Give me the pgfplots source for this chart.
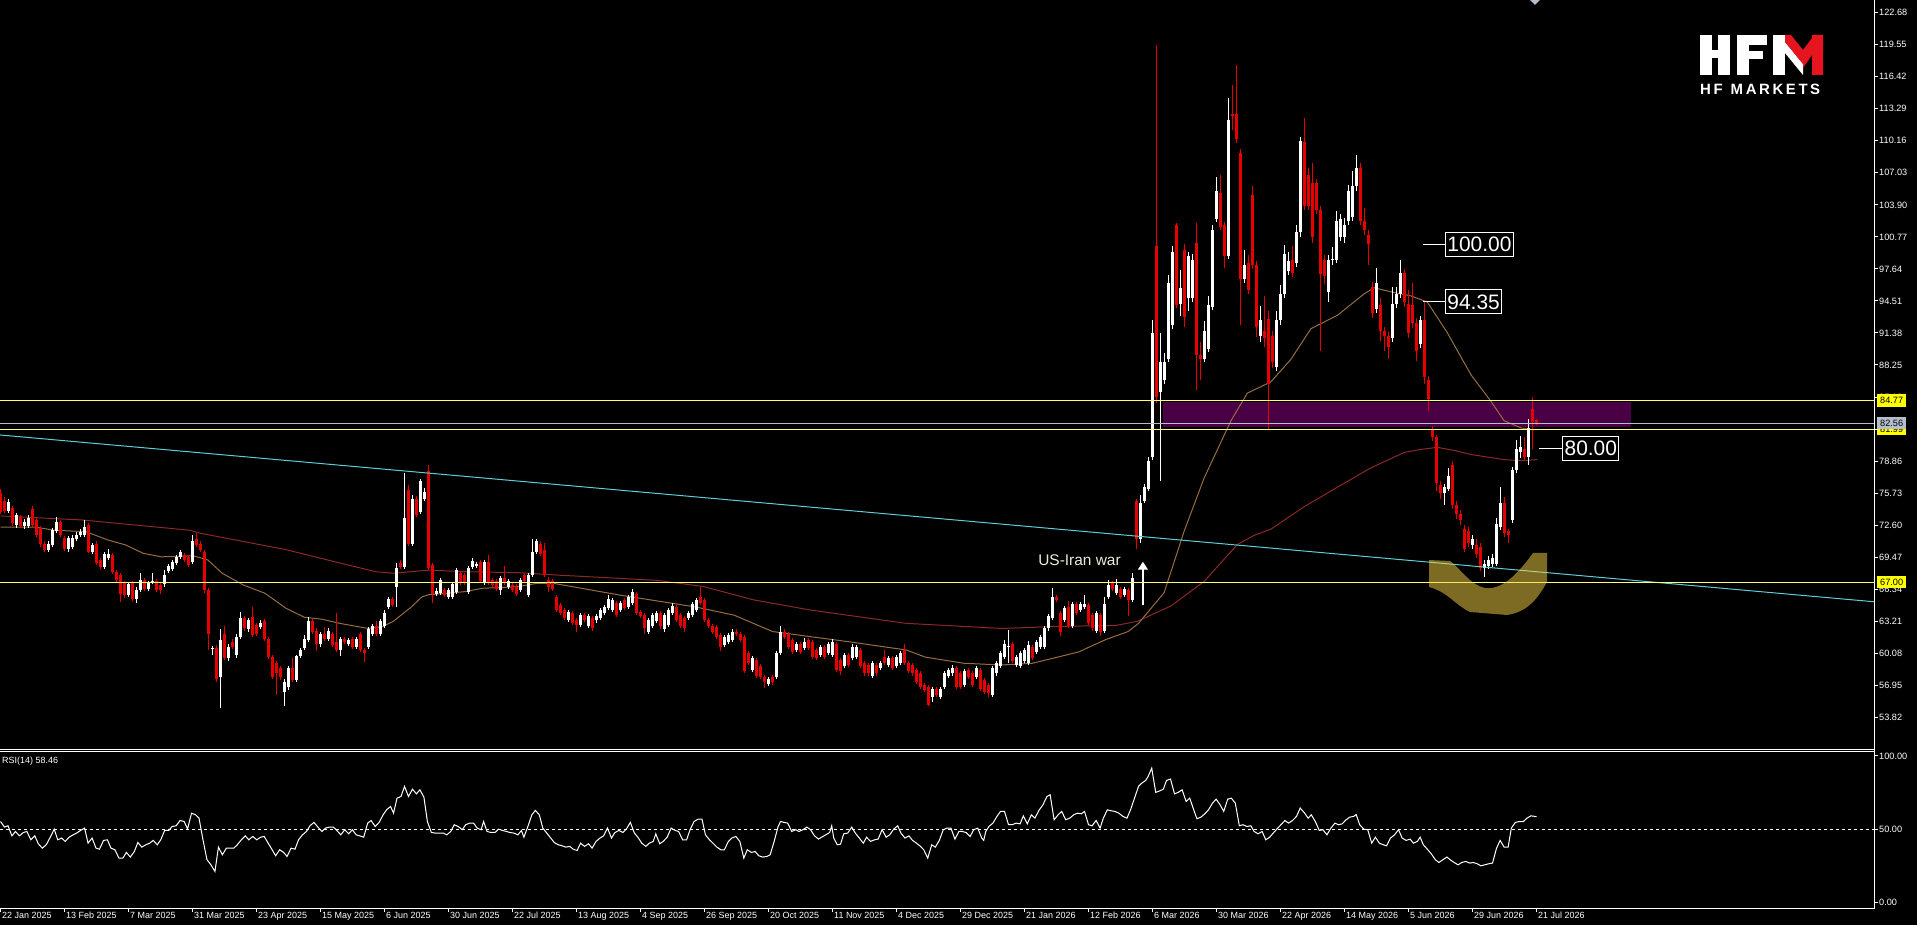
\documentclass[border=0pt]{standalone}
\usepackage{pgfplots}
\pgfplotsset{compat=1.18}
\usepackage{pgfplotstable}
\usepackage{fontspec}
\setmainfont{Liberation Sans}
\usetikzlibrary{arrows.meta}
\definecolor{bull}{RGB}{255,255,255}
\definecolor{bear}{RGB}{230,0,0}
\definecolor{maFast}{RGB}{150,110,65}
\definecolor{maSlow}{RGB}{140,40,40}
\definecolor{trend}{RGB}{95,205,215}
\definecolor{lvl}{RGB}{255,255,120}
\definecolor{lvlbox}{RGB}{255,255,0}
\definecolor{zone}{RGB}{74,0,68}
\definecolor{lastp}{RGB}{180,190,205}
\definecolor{swoosh}{RGB}{250,212,70}
\definecolor{hfred}{RGB}{230,20,30}
\definecolor{cream}{RGB}{235,235,220}

\pgfplotstableread{
i o h l c
0 75.71 76.10 73.70 73.92
1 75.00 75.30 73.80 74.00
2 74.00 75.20 73.80 74.90
3 74.30 74.50 72.50 72.80
4 72.60 73.80 72.30 73.60
5 73.40 73.60 72.30 72.50
6 72.50 73.20 72.20 72.90
7 72.50 73.60 72.30 73.30
8 74.20 74.50 72.40 72.60
9 73.10 73.30 71.40 71.60
10 72.30 72.50 70.50 70.80
11 70.80 71.00 70.00 70.20
12 70.20 71.00 70.00 70.80
13 70.70 72.30 70.50 72.10
14 72.00 73.40 71.80 72.90
15 72.90 73.10 71.40 71.60
16 71.30 71.50 70.10 70.30
17 70.30 71.50 70.00 71.30
18 70.50 71.60 70.30 71.30
19 71.20 71.90 71.00 71.60
20 71.60 72.20 71.40 71.90
21 71.60 73.10 71.40 72.40
22 72.60 72.80 69.90 70.00
23 70.00 70.90 69.80 70.70
24 70.80 71.00 68.70 68.90
25 69.20 69.40 68.30 68.50
26 68.50 70.00 68.30 69.80
27 69.40 70.30 69.20 69.80
28 69.70 69.90 67.80 68.00
29 68.00 68.20 67.00 67.20
30 67.70 67.90 65.10 65.90
31 66.90 67.10 65.50 65.80
32 65.80 67.00 65.60 66.80
33 66.90 67.10 65.20 65.40
34 65.40 66.60 65.00 66.30
35 66.30 67.90 66.10 67.20
36 67.20 67.40 66.20 66.40
37 66.40 67.10 66.20 66.90
38 67.00 67.90 66.80 67.10
39 67.10 67.30 66.10 66.30
40 66.70 66.90 65.90 66.30
41 66.80 68.20 66.60 67.70
42 68.10 68.80 67.90 68.60
43 68.30 69.20 68.10 69.00
44 68.90 69.70 68.70 69.50
45 69.50 70.20 69.30 70.00
46 69.70 69.90 69.00 69.20
47 69.50 69.70 68.50 68.70
48 69.00 71.60 68.80 71.00
49 71.20 71.80 70.50 70.70
50 70.80 71.00 70.00 70.20
51 70.00 70.20 66.00 66.30
52 66.30 66.50 60.40 62.00
53 60.50 60.80 59.90 60.60
54 60.60 60.90 57.30 57.60
55 57.80 62.40 54.70 61.40
56 62.00 62.70 59.40 59.60
57 59.60 61.00 59.30 60.70
58 61.20 61.50 60.50 60.70
59 59.90 62.00 59.60 61.70
60 61.70 64.10 61.50 63.50
61 63.50 63.70 62.30 62.50
62 62.40 63.50 62.20 63.30
63 63.60 64.60 61.70 61.90
64 62.80 63.00 61.80 62.00
65 62.60 63.30 62.40 63.00
66 63.20 63.40 61.30 61.50
67 61.50 61.70 59.50 59.70
68 59.70 59.90 57.60 57.80
69 59.10 59.30 56.00 58.10
70 58.60 58.80 57.50 57.80
71 56.30 57.60 54.90 57.30
72 56.80 58.80 56.50 58.60
73 58.60 59.60 57.30 57.50
74 57.50 59.90 57.30 59.80
75 59.80 60.60 59.60 60.40
76 60.60 61.90 60.40 61.50
77 61.40 63.60 61.20 63.20
78 63.20 63.40 62.00 62.20
79 62.30 62.50 60.30 61.00
80 61.00 62.20 60.70 62.00
81 62.00 62.60 61.30 61.50
82 61.50 62.50 61.30 62.30
83 62.00 62.20 60.70 60.90
84 61.20 64.00 60.20 60.40
85 60.40 61.70 59.80 61.50
86 61.50 61.70 61.00 61.20
87 61.00 61.60 60.80 61.40
88 61.50 61.70 60.50 60.70
89 60.70 61.70 60.50 61.50
90 62.00 62.20 60.20 60.40
91 60.40 60.60 59.20 60.10
92 60.70 62.60 60.50 62.40
93 62.00 62.90 61.80 62.70
94 62.70 63.20 61.80 62.00
95 62.00 63.40 61.80 63.20
96 62.70 64.30 62.50 64.00
97 64.60 65.60 64.40 65.40
98 65.40 65.60 64.60 64.80
99 66.60 68.90 64.60 68.40
100 68.90 69.20 68.30 68.50
101 68.50 77.70 68.30 73.30
102 76.00 76.50 70.60 70.80
103 70.80 75.50 70.60 75.20
104 75.20 75.40 73.40 73.60
105 73.90 77.10 73.70 76.90
106 75.20 76.20 75.00 75.80
107 77.90 78.50 68.20 68.40
108 68.70 68.90 65.00 65.90
109 65.90 66.50 65.70 66.20
110 66.00 67.40 65.80 67.20
111 66.30 66.50 65.60 65.80
112 65.60 66.50 65.40 66.30
113 65.60 67.00 65.40 66.80
114 66.10 68.40 65.90 68.20
115 67.90 68.10 66.70 66.90
116 67.70 67.90 66.70 66.90
117 66.10 68.60 65.90 68.40
118 68.50 69.40 68.30 69.10
119 68.60 69.00 68.40 68.80
120 69.00 69.20 66.90 67.10
121 66.90 69.20 66.70 69.00
122 69.00 69.70 66.70 66.90
123 67.20 67.40 66.50 66.70
124 67.10 67.30 66.20 66.40
125 66.30 67.60 65.80 67.40
126 67.40 68.60 66.70 66.90
127 66.60 67.30 66.40 67.10
128 66.70 66.90 66.10 66.30
129 66.60 66.80 65.70 65.90
130 66.30 67.40 66.10 67.20
131 67.70 67.90 66.90 67.10
132 65.80 67.90 65.60 67.70
133 67.70 71.20 67.50 70.00
134 70.00 71.20 69.80 71.00
135 70.80 71.00 69.60 69.80
136 70.17 70.82 67.50 67.73
137 67.24 67.50 66.10 66.59
138 67.10 67.30 66.20 66.40
139 65.60 65.80 64.10 64.30
140 64.80 65.00 63.80 64.00
141 64.30 64.50 63.30 63.50
142 63.30 64.30 63.10 64.10
143 64.00 64.20 62.80 63.00
144 63.30 63.50 62.20 62.80
145 62.80 64.00 62.60 63.80
146 63.80 64.00 63.10 63.30
147 62.70 63.90 62.50 63.70
148 63.50 63.70 62.30 62.50
149 63.30 63.90 63.00 63.70
150 63.50 64.50 63.30 64.30
151 64.00 64.80 63.80 64.60
152 64.50 65.80 64.30 65.40
153 64.30 65.50 64.10 65.30
154 65.00 65.20 63.60 63.80
155 64.30 65.20 64.10 65.00
156 65.30 65.50 64.30 64.50
157 64.60 65.80 64.40 65.60
158 65.00 66.40 64.80 66.10
159 65.90 66.10 63.80 64.00
160 64.10 64.30 63.50 63.70
161 63.80 64.00 62.00 62.50
162 62.20 63.50 62.00 63.30
163 62.70 64.00 62.50 63.80
164 63.20 64.20 63.00 64.00
165 64.00 64.20 62.40 62.70
166 62.40 64.00 62.20 63.80
167 62.80 64.50 62.60 64.30
168 64.00 65.00 63.80 64.70
169 64.60 64.80 63.10 63.30
170 63.80 64.00 62.50 62.70
171 63.50 63.70 62.20 62.50
172 63.50 64.20 63.30 64.00
173 63.80 65.10 63.60 64.90
174 64.30 65.50 64.10 65.30
175 65.60 66.60 64.80 65.00
176 65.30 65.50 63.10 63.30
177 63.30 63.50 62.50 62.70
178 62.70 62.90 62.00 62.20
179 62.60 62.80 61.50 61.70
180 61.90 62.10 60.30 60.70
181 60.90 61.90 60.70 61.70
182 61.20 62.10 61.00 61.90
183 61.40 62.40 61.20 62.20
184 62.20 62.40 61.80 62.00
185 62.00 62.20 61.20 61.40
186 61.70 61.90 58.10 58.30
187 60.10 60.30 58.90 59.10
188 58.40 59.80 58.20 59.60
189 59.40 59.60 57.70 57.90
190 58.80 59.00 57.60 57.80
191 57.80 58.00 56.65 57.30
192 57.10 57.80 56.90 57.60
193 57.80 58.00 57.00 57.30
194 57.80 60.30 57.60 60.10
195 60.10 62.70 59.90 62.20
196 62.20 62.40 61.50 61.70
197 62.00 62.20 60.50 60.70
198 61.40 61.60 60.00 60.20
199 60.40 61.20 60.20 61.00
200 61.00 61.20 60.00 60.20
201 60.60 61.60 60.40 61.20
202 61.40 61.60 60.40 60.60
203 61.20 61.40 59.50 59.70
204 60.40 60.60 59.40 59.60
205 59.90 60.90 59.70 60.70
206 60.70 60.90 59.50 59.70
207 60.10 61.20 59.90 61.00
208 59.90 61.50 59.70 61.20
209 61.00 61.20 58.20 58.40
210 59.40 59.60 58.00 58.30
211 58.80 60.10 58.60 59.90
212 59.90 60.10 58.70 58.90
213 59.60 61.00 59.40 60.70
214 59.70 60.90 59.50 60.70
215 60.40 60.60 58.60 58.80
216 59.10 59.30 57.90 58.10
217 58.90 59.10 57.90 58.10
218 57.90 59.30 57.70 59.10
219 58.90 59.10 57.90 58.10
220 58.60 59.30 58.40 59.10
221 59.70 60.40 58.90 59.10
222 58.90 59.80 58.70 59.60
223 59.60 59.80 58.40 58.60
224 58.80 59.90 58.60 59.70
225 59.10 60.30 58.90 60.10
226 60.40 61.00 58.90 59.10
227 59.10 59.30 58.10 58.30
228 58.90 59.10 57.90 58.10
229 58.40 58.60 57.10 57.30
230 58.10 58.30 56.60 56.80
231 57.00 57.20 56.30 56.50
232 56.80 57.00 54.90 55.00
233 55.80 56.80 55.35 56.60
234 56.60 56.80 55.80 56.00
235 55.80 56.80 55.60 56.60
236 56.80 58.30 56.60 58.10
237 57.90 58.60 57.70 58.40
238 58.10 58.90 57.90 58.60
239 58.60 58.80 56.60 56.80
240 58.10 58.30 56.60 56.80
241 57.00 58.50 56.80 58.30
242 58.40 58.60 57.60 57.80
243 58.10 58.30 56.80 57.00
244 57.80 58.80 57.60 58.60
245 58.40 58.60 56.40 56.60
246 57.50 57.70 56.10 56.30
247 57.00 57.20 55.80 56.20
248 56.00 58.80 55.80 58.60
249 58.10 59.30 57.90 59.10
250 58.80 60.30 58.60 60.10
251 59.70 61.40 59.50 61.00
252 60.70 62.35 59.10 60.75
253 61.00 61.20 59.10 59.30
254 58.90 59.90 58.70 59.70
255 58.80 60.30 58.60 60.10
256 59.30 60.60 59.10 60.40
257 59.10 61.30 58.90 60.90
258 60.70 60.90 59.40 59.60
259 60.20 61.40 60.00 61.20
260 60.70 61.90 60.50 61.70
261 60.70 62.70 60.50 62.50
262 62.50 63.90 62.30 63.70
263 63.50 66.50 63.30 65.60
264 65.60 65.80 65.10 65.30
265 64.00 64.20 61.80 62.20
266 63.30 64.70 63.10 64.50
267 64.60 65.20 62.50 62.70
268 62.70 65.10 62.50 64.90
269 64.90 65.10 63.80 64.00
270 64.30 65.10 64.10 64.90
271 64.60 65.80 64.40 64.90
272 64.80 65.00 62.80 63.00
273 63.80 64.00 62.30 62.50
274 62.30 64.20 62.10 64.00
275 63.80 64.00 61.80 62.20
276 62.30 65.60 62.10 64.90
277 65.60 67.20 65.40 66.75
278 66.90 67.10 66.20 66.40
279 66.00 67.30 65.80 66.75
280 66.40 66.60 65.40 65.60
281 65.80 66.60 65.60 66.40
282 66.30 66.50 63.70 65.30
283 65.30 67.90 65.10 67.40
284 75.00 75.20 70.30 71.25
285 71.25 75.50 70.90 74.80
286 75.00 76.60 74.80 76.30
287 76.10 79.30 75.90 78.90
288 79.30 92.60 79.00 91.40
289 99.90 119.50 84.50 85.10
290 85.60 91.40 76.90 88.50
291 86.80 89.40 86.40 88.50
292 88.80 97.00 88.50 96.30
293 92.20 99.90 91.80 99.30
294 101.90 102.10 93.80 94.10
295 94.25 97.50 93.00 95.75
296 99.50 100.10 92.00 92.90
297 94.80 99.30 93.50 98.90
298 94.80 99.10 94.40 98.55
299 100.20 102.10 85.80 89.20
300 89.20 90.50 86.80 88.80
301 88.80 92.50 88.50 91.60
302 89.80 95.00 89.50 94.10
303 93.90 101.90 93.60 101.40
304 102.50 106.60 102.20 105.30
305 105.10 106.80 101.40 101.70
306 101.90 102.20 97.70 98.90
307 98.90 114.30 98.60 112.20
308 112.80 115.60 111.20 112.60
309 112.80 117.60 109.90 110.30
310 109.00 109.40 92.20 96.70
311 96.70 99.50 96.30 98.00
312 98.20 99.00 95.20 95.60
313 104.90 105.70 97.60 98.00
314 98.00 98.40 91.00 92.00
315 91.10 94.00 90.50 92.60
316 91.60 95.00 90.00 90.90
317 92.75 93.50 81.90 86.40
318 91.10 91.60 88.00 88.50
319 88.10 93.50 87.70 92.60
320 92.60 96.10 92.20 95.20
321 95.20 100.00 94.80 99.10
322 97.40 99.30 97.00 98.40
323 98.55 99.90 96.80 97.20
324 98.20 101.90 97.80 101.20
325 101.20 110.50 100.80 110.10
326 110.00 112.40 103.40 103.80
327 106.80 107.50 103.40 103.80
328 106.00 108.00 100.20 100.80
329 106.00 106.40 103.00 103.40
330 103.40 103.80 89.60 97.10
331 98.55 99.00 96.20 96.90
332 95.40 99.00 94.40 98.55
333 98.55 99.80 98.00 98.62
334 98.55 103.30 98.20 102.30
335 100.80 103.00 100.40 102.50
336 100.80 102.60 100.20 101.90
337 102.30 105.80 101.90 105.30
338 102.70 107.20 102.30 105.70
339 105.70 108.80 105.30 107.50
340 107.50 108.00 101.90 102.30
341 102.30 103.60 101.00 101.40
342 101.00 101.40 98.00 100.05
343 95.90 96.40 92.80 93.30
344 93.70 97.70 93.30 96.30
345 94.10 94.80 90.60 91.60
346 91.60 92.00 89.60 91.10
347 91.10 91.50 88.80 90.00
348 90.90 95.90 90.50 94.25
349 94.25 95.90 93.80 95.20
350 95.20 98.55 94.80 97.20
351 97.20 97.60 93.90 94.40
352 94.25 95.60 90.90 91.40
353 94.10 96.30 91.90 92.40
354 92.40 92.80 88.60 89.60
355 90.30 93.00 89.90 92.60
356 92.60 94.40 86.40 87.10
357 86.80 87.20 83.80 84.90
358 81.90 82.30 80.80 81.20
359 81.20 81.40 75.90 76.70
360 76.50 76.90 75.20 75.70
361 75.70 76.60 74.60 76.30
362 76.10 78.20 75.90 77.40
363 78.50 78.90 74.20 74.60
364 74.60 75.00 73.20 73.70
365 73.70 74.10 72.60 73.10
366 72.20 72.60 70.00 70.30
367 72.00 72.40 70.50 70.90
368 70.70 71.60 70.30 71.25
369 70.70 71.20 69.40 69.75
370 70.50 70.90 68.10 68.44
371 68.44 69.20 67.50 68.82
372 68.60 69.60 68.30 69.20
373 68.80 69.80 68.50 69.40
374 68.80 73.30 68.60 72.70
375 72.40 76.30 72.10 74.80
376 74.80 75.30 71.40 71.80
377 72.00 72.20 70.90 71.60
378 73.10 78.30 72.80 78.00
379 78.00 80.90 77.70 80.00
380 79.70 81.30 79.20 80.20
381 80.00 81.20 78.90 79.30
382 79.30 83.00 78.50 82.10
383 83.96 85.10 80.00 82.66
384 82.90 83.00 82.40 82.56
}\candles

\begin{document}
\begin{tikzpicture}
\fill[black] (0,0) rectangle (1917bp,925bp);

% ---------------- main price panel ----------------
\begin{axis}[
  at={(0bp,176bp)}, anchor=south west,
  scale only axis, width=1874bp, height=749bp,
  xmin=-0.125, xmax=468.375, ymin=50.72, ymax=123.92,
  axis line style={draw=none},
  xtick=\empty,
  ytick={53.82,56.95,60.08,63.21,66.34,69.47,72.60,75.73,78.86,81.99,85.12,88.25,91.38,94.51,97.64,100.77,103.90,107.03,110.16,113.29,116.42,119.55,122.68},
  yticklabels={53.82,56.95,60.08,63.21,66.34,69.47,72.60,75.73,78.86,81.99,85.12,88.25,91.38,94.51,97.64,100.77,103.90,107.03,110.16,113.29,116.42,119.55,122.68},
  ytick pos=right, yticklabel pos=right,
  tick align=outside, major tick length=4bp,
  tick style={white, line width=1bp},
  yticklabel style={font=\fontsize{9.2}{11}\selectfont, text=white, anchor=west, inner sep=0pt, xshift=1bp},
]
% resistance zone
\fill[zone] (axis cs:290.6,82.22) rectangle (axis cs:407.55,84.66);

% moving averages
\addplot[maSlow, line width=1bp, mark=none] coordinates {
(0,73.5) (20.5,73.1) (47.3,72.1) (50,71.8) (71.4,70.2) (84.8,68.9) (93.75,68.05) (98.2,67.9) (107.1,68.2) (116.1,68.05) (129.5,67.95) (140,67.7) (164.2,67.2) (175.7,66.6) (188.2,65.3) (202.5,64.3) (226.4,63.0) (250.3,62.5) (264.6,62.7) (278.9,62.8) (284.2,63.2) (292.6,64.7) (300.9,67.1) (309.2,70.7) (313.4,71.6) (317.6,72.2) (325.9,74.4) (334.2,76.3) (342.6,78.2) (350.9,79.7) (355.1,80.0) (359.2,80.2) (363.4,79.9) (367.6,79.5) (375.9,79.0) (380.1,78.9) (384.2,79.0)
};
\addplot[maFast, line width=1bp, mark=none] coordinates {
(0,72.4) (8.9,72.4) (13.4,72.1) (21.4,71.96) (26.8,71.15) (31.3,70.66) (35.7,69.84) (40.2,69.5) (48.2,69.6) (51.8,69.2) (55.4,67.9) (60.7,66.75) (66.1,65.94) (71.4,64.47) (75.9,63.6) (80.4,63.4) (84.8,63.0) (89.3,62.68) (92,62.5) (95.5,62.68) (98.2,63.2) (102.7,64.6) (105.4,65.6) (107.1,65.8) (111.6,65.94) (116.1,66.1) (120.5,66.43) (125,66.5) (129.5,66.59) (133.9,66.9) (138.4,66.9) (154.7,65.77) (173.8,64.6) (183.4,63.8) (193,62.2) (202.5,61.7) (212.1,61.2) (226.4,60.4) (231.2,59.7) (240.8,59.1) (250.3,58.93) (258,59.1) (269.5,60.2) (276.2,61.4) (281.9,62.2) (284.5,63.0) (290.9,66.0) (295.9,72.0) (300.9,77.2) (307.6,82.8) (311.7,85.5) (317.6,86.6) (322.6,88.8) (327.6,91.8) (334.2,93.1) (340.9,95.2) (343.4,95.8) (347.6,95.4) (352.6,95.0) (356.7,94.4) (361.7,91.4) (367.6,87.3) (372.6,84.7) (375.9,82.8) (380.1,82.1) (383.4,81.9)
};

% candles: wicks then bodies
\addplot[draw=none, mark=none, forget plot,
  restrict expr to domain={\thisrow{c}-\thisrow{o}}{0:1000},
  error bars/.cd, y dir=plus, y explicit, error mark=none,
  error bar style={draw=bull, line width=1bp, solid}]
  table[x=i, y=l, y error plus expr=\thisrow{h}-\thisrow{l}] {\candles};
\addplot[draw=none, mark=none, forget plot,
  restrict expr to domain={\thisrow{c}-\thisrow{o}}{-1000:-0.00001},
  error bars/.cd, y dir=plus, y explicit, error mark=none,
  error bar style={draw=bear, line width=1bp, solid}]
  table[x=i, y=l, y error plus expr=\thisrow{h}-\thisrow{l}] {\candles};
\addplot[draw=none, mark=none, forget plot,
  restrict expr to domain={\thisrow{c}-\thisrow{o}}{0:1000},
  error bars/.cd, y dir=plus, y explicit, error mark=none,
  error bar style={draw=bull, line width=3bp, solid}]
  table[x=i, y=o, y error plus expr={max(\thisrow{c}-\thisrow{o},0.1)}] {\candles};
\addplot[draw=none, mark=none, forget plot,
  restrict expr to domain={\thisrow{c}-\thisrow{o}}{-1000:-0.00001},
  error bars/.cd, y dir=plus, y explicit, error mark=none,
  error bar style={draw=bear, line width=3bp, solid}]
  table[x=i, y=c, y error plus expr={max(\thisrow{o}-\thisrow{c},0.1)}] {\candles};

% trend line and horizontal levels
\draw[trend, line width=1bp] (axis cs:-0.125,81.41) -- (axis cs:468.375,65.11);
\draw[lvl, line width=1bp] (axis cs:-0.125,84.77) -- (axis cs:468.375,84.77);
\draw[lvl, line width=1bp] (axis cs:-0.125,81.99) -- (axis cs:468.375,81.99);
\draw[lastp, line width=1bp] (axis cs:-0.125,82.56) -- (axis cs:468.375,82.56);
\draw[lvl, line width=1bp] (axis cs:-0.125,67.00) -- (axis cs:468.375,67.00);

% annotations
\draw[white, line width=1.3bp, -{Triangle[width=10bp,length=8bp]}] (axis cs:285.6,64.79) -- (axis cs:285.6,69.02);
\node[text=cream, font=\fontsize{15.5}{15.5}\selectfont, inner sep=0pt] at (axis cs:269.75,69.19) {US-Iran war};

\draw[white, line width=1bp] (axis cs:355.6,100.05) -- (axis cs:361.1,100.05);
\node[draw=white, line width=1bp, fill=black, text=white, anchor=west, inner xsep=2bp, inner ysep=0pt, minimum height=24bp, text height=15bp, text depth=0pt, font=\fontsize{21}{21}\selectfont] at (axis cs:361.1,100.05) {100.00};
\draw[white, line width=1bp] (axis cs:355.6,94.41) -- (axis cs:361.1,94.41);
\node[draw=white, line width=1bp, fill=black, text=white, anchor=west, inner xsep=2bp, inner ysep=0pt, minimum height=24bp, text height=15bp, text depth=0pt, font=\fontsize{21}{21}\selectfont] at (axis cs:361.1,94.41) {94.35};
\draw[white, line width=1bp] (axis cs:384.6,80.09) -- (axis cs:390.4,80.09);
\node[draw=white, line width=1bp, fill=black, text=white, anchor=west, inner xsep=2bp, inner ysep=0pt, minimum height=24bp, text height=15bp, text depth=0pt, font=\fontsize{21}{21}\selectfont] at (axis cs:390.4,80.09) {80.00};
\end{axis}

% ---------------- RSI panel ----------------
\begin{axis}[
  at={(0bp,17bp)}, anchor=south west,
  scale only axis, width=1874bp, height=157bp,
  xmin=-0.125, xmax=468.375, ymin=-3.9, ymax=103.4,
  axis line style={draw=none},
  xtick={0,16,...,384},
  xticklabels={22 Jan 2025,13 Feb 2025,7 Mar 2025,31 Mar 2025,23 Apr 2025,15 May 2025,6 Jun 2025,30 Jun 2025,22 Jul 2025,13 Aug 2025,4 Sep 2025,26 Sep 2025,20 Oct 2025,11 Nov 2025,4 Dec 2025,29 Dec 2025,21 Jan 2026,12 Feb 2026,6 Mar 2026,30 Mar 2026,22 Apr 2026,14 May 2026,5 Jun 2026,29 Jun 2026,21 Jul 2026},
  xtick pos=bottom,
  ytick={0,50,100}, yticklabels={0.00,50.00,100.00},
  ytick pos=right, yticklabel pos=right,
  tick align=outside, major tick length=4bp,
  tick style={white, line width=1bp},
  xticklabel style={font=\fontsize{9}{10}\selectfont, text=white, anchor=north west, inner sep=0pt, xshift=1.5bp},
  yticklabel style={font=\fontsize{9.2}{11}\selectfont, text=white, anchor=west, inner sep=0pt, xshift=1bp},
]
\draw[white, line width=1bp, dash pattern=on 3bp off 3bp] (axis cs:-0.125,50) -- (axis cs:468.375,50);
\addplot[white, line width=1bp, mark=none] coordinates {
(0,55.2)(1.0,51.4)(1.87,52.3)(2.86,45.4)(3.73,48.4)(4.73,45.4)(5.72,47.7)(6.59,48.4)(7.59,42.7)(8.58,45.4)(9.45,40.0)(10.45,37.0)(11.44,39.3)(12.44,44.5)(13.43,50.0)(14.3,42.7)(15.3,43.9)(16.17,41.6)(17.16,44.5)(18.16,46.1)(19.03,47.3)(20.02,49.1)(21.02,50.7)(21.89,40.4)(22.89,43.9)(23.88,37.0)(24.75,36.3)(25.75,42.3)(26.74,42.7)(27.61,37.0)(28.61,35.9)(29.6,30.2)(30.6,30.2)(31.47,34.1)(32.46,30.9)(33.46,34.7)(34.33,40.9)(35.32,37.7)(36.32,39.3)(37.31,40.4)(38.18,42.3)(39.18,39.3)(40.05,42.7)(41.04,49.1)(42.04,49.1)(42.91,51.8)(43.91,52.3)(44.9,55.9)(45.9,55.2)(46.77,50.2)(47.76,60.9)(48.76,59.8)(49.63,57.5)(50.62,42.7)(51.62,29.1)(52.61,25.6)(53.61,21.1)(54.48,37.7)(55.47,32.5)(56.47,37.0)(57.34,37.0)(58.33,37.0)(59.2,39.3)(60.2,42.7)(61.19,45.4)(62.06,42.7)(63.06,45.0)(64.05,42.7)(65.05,44.5)(65.92,45.0)(66.92,40.4)(67.91,35.9)(68.78,31.8)(69.78,35.9)(70.77,34.1)(71.64,31.3)(72.64,37.0)(73.63,36.3)(74.5,42.7)(75.5,46.1)(76.49,48.4)(77.36,52.3)(78.36,54.6)(79.35,51.4)(80.35,48.4)(81.22,50.7)(82.21,51.4)(83.21,51.4)(84.08,49.1)(85.07,46.1)(86.07,49.6)(87.06,46.8)(87.94,49.6)(88.93,46.1)(89.8,45.4)(90.8,44.5)(91.79,54.1)(92.66,55.9)(93.66,51.8)(94.65,54.6)(95.65,59.8)(96.52,63.2)(97.51,65.5)(98.26,60.9)(99.13,71.2)(100.12,72.3)(101.0,79.2)(101.99,72.3)(102.99,77.3)(103.98,74.1)(104.85,76.9)(105.85,71.9)(106.72,55.2)(107.71,47.7)(108.71,47.3)(109.7,47.3)(110.7,47.3)(111.57,46.1)(112.56,48.4)(113.43,53.0)(114.43,51.8)(115.42,49.6)(116.29,53.0)(117.29,54.1)(118.28,54.1)(119.15,50.7)(120.15,49.6)(120.77,55.2)(121.64,48.4)(122.64,47.7)(123.63,47.7)(124.5,50.0)(125.5,49.1)(126.49,48.4)(127.36,47.7)(128.36,47.3)(129.35,46.1)(130.22,49.1)(130.85,44.5)(131.84,51.8)(132.84,59.8)(133.71,62.8)(134.7,59.8)(135.57,50.7)(136.57,47.3)(137.56,43.9)(138.43,40.9)(139.43,39.3)(140.42,38.6)(141.29,37.7)(142.29,38.2)(143.16,36.3)(144.15,35.4)(145.02,40.4)(146.02,38.2)(147.01,40.0)(147.89,37.0)(148.88,41.6)(149.88,43.9)(150.75,45.4)(151.74,50.7)(152.74,43.9)(153.61,47.7)(154.6,49.1)(155.6,47.7)(156.47,50.0)(157.46,54.6)(158.46,47.3)(159.33,44.5)(160.32,40.4)(161.32,38.2)(162.19,40.4)(163.18,41.6)(163.81,46.8)(164.8,40.0)(165.67,41.6)(166.67,44.5)(167.66,50.7)(168.66,49.1)(169.53,48.4)(170.52,42.7)(171.52,42.7)(172.39,49.6)(173.38,55.2)(174.38,56.8)(175.37,56.8)(176.24,46.1)(177.24,42.7)(178.11,40.4)(179.1,37.7)(180.1,35.9)(180.97,35.9)(181.97,41.6)(182.84,43.9)(183.83,45.0)(184.83,41.6)(185.82,30.2)(186.69,35.9)(187.69,34.1)(188.68,34.7)(189.55,31.8)(190.55,30.9)(191.54,31.3)(192.41,32.5)(193.41,41.6)(194.4,51.8)(195.0,55.2)
(195.9,54.6)(196.8,54.1)(197.8,48.4)(198.8,49.6)(199.6,48.4)(200.6,49.6)(201.6,51.4)(202.5,49.6)(203.5,45.4)(204.5,43.2)(205.3,44.5)(206.3,46.1)(207.3,47.7)(207.8,52.3)(208.3,43.9)(209.2,39.3)(210.0,39.7)(210.8,46.8)(211.8,47.3)(212.8,51.4)(213.7,47.3)(214.7,43.9)(215.7,40.4)(216.5,44.5)(217.5,41.6)(218.5,42.7)(219.4,43.2)(220.4,49.6)(221.4,44.5)(222.3,46.1)(223.3,50.0)(224.3,52.3)(225.1,47.3)(226.1,43.9)(227.1,45.4)(228.0,42.3)(229.0,40.4)(230.0,38.2)(230.8,35.9)(231.8,30.2)(232.8,39.3)(233.7,37.7)(234.7,42.3)(235.7,49.6)(236.6,50.7)(237.6,50.7)(238.6,43.2)(239.6,48.4)(240.4,48.4)(241.4,47.7)(242.4,45.0)(243.3,49.6)(244.3,50.7)(245.3,43.9)(245.8,42.3)(246.3,48.4)(247.1,51.8)(248.1,54.1)(249.1,58.7)(250.0,62.1)(251.0,62.1)(252.0,53.0)(252.9,53.0)(253.9,54.1)(254.9,53.6)(255.7,59.1)(256.7,53.6)(257.7,59.8)(258.6,57.5)(259.6,62.8)(260.6,66.6)(261.6,72.3)(262.4,73.5)(263.4,56.4)(264.4,59.8)(265.3,62.1)(266.3,56.4)(267.3,57.5)(268.3,59.8)(269.2,60.9)(270.2,60.5)(271.0,62.1)(272.0,53.0)(272.9,52.3)(273.9,55.9)(274.9,50.7)(275.7,57.5)(276.7,63.2)(277.7,62.5)(278.6,62.1)(279.6,60.9)(280.6,58.7)(281.6,57.5)(282.5,63.2)(283.5,71.2)(284.5,79.2)(285.3,81.4)(286.3,83.3)(286.9,86.0)(287.8,91.7)(288.8,75.1)(289.7,76.0)(290.7,77.3)(291.5,83.3)(292.5,84.2)(293.5,74.1)(294.4,75.1)(295.4,76.9)(296.4,68.9)(297.3,71.2)(298.3,63.2)(299.1,57.1)(300.1,58.2)(301.1,60.5)(302.0,63.2)(303.0,67.8)(303.9,70.5)(304.9,66.6)(305.8,62.1)(306.8,70.5)(307.7,71.2)(308.7,67.8)(309.7,52.3)(310.6,53.0)(311.6,51.8)(312.6,52.3)(313.4,48.4)(314.4,46.8)(315.4,48.4)(316.3,42.7)(317.3,44.5)(318.3,47.7)(319.3,50.7)(320.1,53.0)(321.1,55.9)(322.0,54.1)(323.0,55.9)(324.0,58.7)(324.9,64.4)(325.9,61.4)(326.9,57.5)(327.7,59.8)(328.7,55.2)(329.7,49.1)(330.6,49.6)(331.6,46.1)(332.6,50.7)(333.6,54.1)(334.5,53.0)(335.4,53.6)(336.4,56.4)(337.3,58.2)(338.3,58.7)(338.9,60.0)(339.8,53.0)(340.8,50.0)(341.8,49.6)(342.8,40.4)(343.7,44.5)(344.7,40.4)(345.7,39.3)(346.5,38.6)(347.5,43.9)(348.5,46.1)(349.5,49.6)(350.4,43.9)(351.4,42.3)(352.4,43.2)(353.2,40.4)(354.2,41.6)(354.9,44.5)(355.7,39.3)(356.7,36.3)(357.7,33.1)(358.7,29.1)(359.6,27.2)(360.6,29.1)(361.6,30.9)(362.4,29.1)(363.4,27.2)(364.4,25.6)(365.3,27.2)(366.3,27.9)(367.3,26.8)(368.2,27.2)(369.2,26.3)(370.1,24.9)(371.0,25.6)(372.0,26.3)(373.0,26.8)(374.0,37.0)(374.9,42.3)(375.9,37.7)(376.9,37.7)(377.7,50.7)(378.7,54.6)(379.7,55.2)(380.7,55.2)(381.6,57.5)(382.6,59.1)(383.6,58.7)(384,58.46)
};
\end{axis}

% ---------------- pixel-coordinate overlay ----------------
\begin{scope}[x=1bp, y=-1bp, shift={(0,925bp)}]
% frames
\draw[white, line width=1bp] (0,749.5) -- (1874.5,749.5);
\draw[white, line width=1bp] (0,751.5) -- (1874.5,751.5);
\draw[white, line width=1bp] (1874.5,0) -- (1874.5,908.5);
\draw[white, line width=1bp] (0,908.5) -- (1874.5,908.5);
% hand-drawn swoosh (filled crescent)
\fill[swoosh, opacity=0.5] (1429,560) -- (1450,561) .. controls (1460,568) and (1470,585) .. (1485,588) .. controls (1500,590) and (1515,578) .. (1533,553) -- (1547,553) -- (1547,582) .. controls (1538,598) and (1528,612) .. (1507,615) -- (1470,612) .. controls (1455,605) and (1448,592) .. (1429,587) -- cycle;
% right-side price labels
\node[fill=lvlbox, text=black, inner sep=0pt, minimum width=29bp, minimum height=12bp, anchor=west, font=\fontsize{9.2}{11}\selectfont] at (1877,429.5) {81.99};
\node[fill=lvlbox, text=black, inner sep=0pt, minimum width=29bp, minimum height=13bp, anchor=west, font=\fontsize{9.2}{11}\selectfont] at (1877,400.2) {84.77};
\node[fill=lastp, text=black, inner sep=0pt, minimum width=29bp, minimum height=12bp, anchor=west, font=\fontsize{9.2}{11}\selectfont] at (1877,423.2) {82.56};
\node[fill=lvlbox, text=black, inner sep=0pt, minimum width=29bp, minimum height=12bp, anchor=west, font=\fontsize{9.2}{11}\selectfont] at (1877,582.4) {67.00};
% RSI caption
\node[anchor=west, inner sep=0pt, text=white, font=\fontsize{9}{10}\selectfont] at (2,761) {RSI(14) 58.46};
% top marker
\fill[lastp] (1530,0) -- (1540,0) -- (1535,5) -- cycle;
% HFM logo
\fill[white] (1700,35) rectangle (1712,75);
\fill[white] (1718,35) rectangle (1730,75);
\fill[white] (1712,50) rectangle (1718,58);
\fill[white] (1737,35) rectangle (1749,75);
\fill[white] (1749,35) rectangle (1767,45);
\fill[white] (1749,51) rectangle (1763,59);
\fill[white] (1773,35) rectangle (1785,75);
\fill[white] (1785,42) -- (1803,64) -- (1803,75) -- (1785,53) -- cycle;
\fill[hfred] (1780,35) -- (1791,35) -- (1803,50) -- (1803,64) -- (1785,42) -- (1785,35) -- cycle;
\fill[hfred] (1803,50) -- (1812,38) -- (1812,35) -- (1823,35) -- (1823,75) -- (1812,75) -- (1812,55) -- (1803,68) -- cycle;
\node[anchor=base west, inner sep=0pt, text=white, font=\bfseries\fontsize{15}{15}\selectfont] at (1700,95) {H\hspace{2.6bp}F\hspace{8bp}M\hspace{2.6bp}A\hspace{2.6bp}R\hspace{2.6bp}K\hspace{2.6bp}E\hspace{2.6bp}T\hspace{2.6bp}S};
\end{scope}

\pgfresetboundingbox
\useasboundingbox (0,0) rectangle (1917bp,925bp);
\end{tikzpicture}
\end{document}
